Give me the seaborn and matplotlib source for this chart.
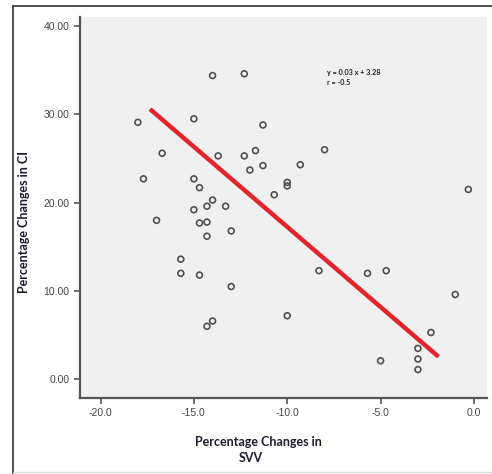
import pandas as pd
import seaborn as sns
import matplotlib.pyplot as plt
from matplotlib.lines import Line2D

# Percentage changes
svv = [-18.0, -17.7, -17.0, -16.7, -15.7, -15.7, -15.0, -15.0, -14.7, -15.0,
       -14.7, -14.7, -14.3, -14.3, -14.3, -14.3, -14.0, -14.0, -14.0, -13.7,
       -13.3, -13.0, -13.0, -12.3, -12.3, -12.0, -11.7, -11.3, -11.3, -10.7,
       -10.0, -10.0, -10.0, -9.3, -8.3, -8.0, -5.7, -5.0, -4.7, -3.0,
       -3.0, -3.0, -2.3, -1.0, -0.3]
ci = [29.1, 22.7, 18.0, 25.6, 13.6, 12.0, 29.5, 22.7, 21.7, 19.2,
      17.7, 11.8, 19.6, 17.8, 16.2, 6.0, 34.4, 20.3, 6.6, 25.3,
      19.6, 16.8, 10.5, 34.6, 25.3, 23.7, 25.9, 28.8, 24.2, 20.9,
      22.3, 21.9, 7.2, 24.3, 12.3, 26.0, 12.0, 2.1, 12.3, 3.5,
      2.3, 1.1, 5.3, 9.6, 21.5]

# fit line as drawn in the figure
fit_x = [-17.35, -1.9]
fit_y = [30.6, 2.56]

x_ticks = [-20.0, -15.0, -10.0, -5.0, 0.0]
y_ticks = [0.0, 10.0, 20.0, 30.0, 40.0]

df = pd.DataFrame({"svv": svv, "ci": ci})
fit = pd.DataFrame({"svv": fit_x, "ci": fit_y})

sns.set_style("ticks")
plt.rcParams['font.family'] = ['Liberation Sans Narrow', 'Liberation Sans', 'DejaVu Sans']

fig = plt.figure(figsize=(4.92, 4.74), dpi=100)
ax = fig.add_axes([80 / 492, 76 / 474, 407 / 492, 381 / 474])
ax.set_facecolor("#f0f0f0")

sns.lineplot(data=fit, x="svv", y="ci", ax=ax, color="#e3242b", linewidth=3.2,
             solid_capstyle="butt", zorder=2)
sns.scatterplot(data=df, x="svv", y="ci", ax=ax, marker="o", s=18,
                facecolor="none", edgecolor="#505050", linewidth=1.2, zorder=3)

ax.set_xlim(-21.1, 0.7)
ax.set_ylim(-2.12, 41.03)
ax.set_xticks(x_ticks)
ax.set_yticks(y_ticks)
ax.set_xticklabels([f"{v:.1f}" for v in x_ticks])
ax.set_yticklabels([f"{v:.2f}" for v in y_ticks])
ax.tick_params(axis="both", labelsize=7.5, colors="#555555", labelcolor="#444444",
               length=4, width=1.2)

for side in ["top", "right"]:
    ax.spines[side].set_visible(False)
for side in ["left", "bottom"]:
    ax.spines[side].set_color("#555555")
    ax.spines[side].set_linewidth(1.6)

ax.set_xlabel("")
ax.set_ylabel("Percentage Changes in CI", family=["Lato", "DejaVu Sans"],
              fontweight="bold", fontsize=9, color="#1c1c2c")
ax.yaxis.set_label_coords(-0.123, 0.462)

fig.text(258 / 492, 1 - 442 / 474, "Percentage Changes in", ha="center", va="center",
         family=["Lato", "DejaVu Sans"], fontweight="bold", fontsize=9, color="#1c1c2c")
fig.text(251 / 492, 1 - 458 / 474, "SVV", ha="center", va="center",
         family=["Lato", "DejaVu Sans"], fontweight="bold", fontsize=9, color="#1c1c2c")

ax.text(-7.87, 34.2, "y = 0.03 x + 3.28\nr = -0.5", ha="left", va="center",
        family=["Lato", "DejaVu Sans"], fontweight="bold", fontsize=5.2,
        color="#222222", linespacing=1.4)

# outer frame
fig.add_artist(Line2D([13 / 492, 13 / 492], [0, 1 - 6 / 474], transform=fig.transFigure,
                      color="#333333", linewidth=1.2))
fig.add_artist(Line2D([13 / 492, 1], [1 - 6 / 474, 1 - 6 / 474], transform=fig.transFigure,
                      color="#333333", linewidth=1.2))
fig.add_artist(Line2D([13 / 492, 1], [1 - 472 / 474, 1 - 472 / 474], transform=fig.transFigure,
                      color="#dddddd", linewidth=1.0))

fig.savefig("out.png", dpi=100, facecolor="white")
